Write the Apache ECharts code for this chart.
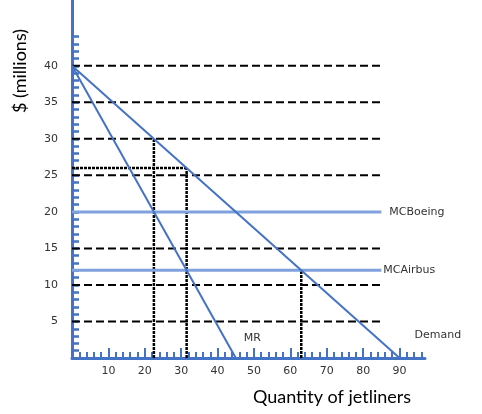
<!DOCTYPE html>
<html><head><meta charset="utf-8">
<script src="https://cdn.jsdelivr.net/npm/echarts@6/dist/echarts.min.js"></script>
<style>html,body{margin:0;padding:0;background:#fff}#c{width:482px;height:414px}</style>
</head><body><div id="c"></div>
<script>
// ---- data ----
const demandPts = [[0, 40], [90, 0]];
const mrPts = [[0, 40], [45, 0]];
const mcBoeing = 20;
const mcAirbus = 12;
const mcEndQ = 85;
const gridPrices = [5, 10, 15, 25, 30, 35, 40];
const gridEndQ = 85;
const qBoeing = 22.5, pBoeing = 30;
const qAirbus = 31.5, pAirbus = 26;
const qCompetitive = 63;
const yTickValues = [1,2,3,4,5,6,7,8,9,10,11,12,13,14,15,16,17,18,19,20,21,22,23,24,25,26,27,28,29,30,31,32,33,34,35,36,37,38,39,40,41,42,43,44];
const yLabelValues = [5, 10, 15, 20, 25, 30, 35, 40];
const xMajorTicks = [0, 10, 20, 30, 40, 50, 60, 70, 80, 90];
const xMinorTicks = [2,4,6,8,12,14,16,18,22,24,26,28,32,34,36,38,42,44,46,48,52,54,56,58,62,64,66,68,72,74,76,78,82,84,86,88,92,94,96];
const xLabelValues = [10, 20, 30, 40, 50, 60, 70, 80, 90];

const BLUE = '#4472C4';
const LIGHT = '#7FA1DC';
const TXT = '#333';

const series = [];
gridPrices.forEach(p => {
  series.push({ type: 'line', data: [[0, p], [gridEndQ, p]], symbol: 'none', silent: true,
    lineStyle: { color: '#000', width: 2, type: [8, 4] }, z: 1 });
});
const dotted = { color: '#000', width: 2.5, type: [3, 1] };
series.push({ type: 'line', data: [[qBoeing, 0], [qBoeing, pBoeing]], symbol: 'none', lineStyle: dotted, z: 2 });
series.push({ type: 'line', data: [[qAirbus, 0], [qAirbus, pAirbus]], symbol: 'none', lineStyle: dotted, z: 2 });
series.push({ type: 'line', data: [[0, pAirbus], [qAirbus, pAirbus]], symbol: 'none', lineStyle: dotted, z: 2 });
series.push({ type: 'line', data: [[qCompetitive, 0], [qCompetitive, mcAirbus]], symbol: 'none', lineStyle: dotted, z: 2 });
series.push({ type: 'line', data: [[0, mcBoeing], [mcEndQ, mcBoeing]], symbol: 'none',
  lineStyle: { color: LIGHT, width: 3 }, z: 3,
  endLabel: { show: true, formatter: 'MCBoeing', distance: 0, offset: [8, 0], color: TXT, fontSize: 11, fontFamily: 'DejaVu Sans' } });
series.push({ type: 'line', data: [[0, mcAirbus], [mcEndQ, mcAirbus]], symbol: 'none',
  lineStyle: { color: LIGHT, width: 3 }, z: 3,
  endLabel: { show: true, formatter: 'MCAirbus', distance: 0, offset: [2, 0], color: TXT, fontSize: 11, fontFamily: 'DejaVu Sans' } });
series.push({ type: 'line', data: demandPts, symbol: 'none', lineStyle: { color: BLUE, width: 2 }, z: 4,
  endLabel: { show: true, formatter: 'Demand', distance: 0, offset: [15, -23], color: TXT, fontSize: 11, fontFamily: 'DejaVu Sans' } });
series.push({ type: 'line', data: mrPts, symbol: 'none', lineStyle: { color: BLUE, width: 2 }, z: 4,
  endLabel: { show: true, formatter: 'MR', distance: 0, offset: [8, -20], color: TXT, fontSize: 11, fontFamily: 'DejaVu Sans' } });

const chart = echarts.init(document.getElementById('c'), null, { renderer: 'canvas' });
chart.setOption({
  animation: false,
  backgroundColor: '#fff',
  grid: { left: 72, right: 57, top: 0, bottom: 56, containLabel: false },
  xAxis: [
    { type: 'value', min: 0, max: 97, splitLine: { show: false },
      axisLine: { show: true, lineStyle: { color: BLUE, width: 3 } },
      axisTick: { show: true, inside: true, length: 10, customValues: xMajorTicks, lineStyle: { color: BLUE, width: 2 } },
      axisLabel: { show: true, customValues: xLabelValues, color: TXT, fontSize: 11, fontFamily: 'DejaVu Sans', margin: 8 } },
    { type: 'value', min: 0, max: 97, position: 'bottom', splitLine: { show: false },
      axisLine: { show: false },
      axisTick: { show: true, inside: true, length: 6, customValues: xMinorTicks, lineStyle: { color: BLUE, width: 2 } },
      axisLabel: { show: false } }
  ],
  yAxis: { type: 'value', min: 0, max: 49, splitLine: { show: false },
    axisLine: { show: true, lineStyle: { color: BLUE, width: 3 } },
    axisTick: { show: true, inside: true, length: 7, customValues: yTickValues, lineStyle: { color: BLUE, width: 2.5 } },
    axisLabel: { show: true, customValues: yLabelValues, color: TXT, fontSize: 11, fontFamily: 'DejaVu Sans', margin: 14 } },
  series: series,
  graphic: [
    { type: 'text', x: 11, y: 113, rotation: Math.PI / 2,
      style: { text: '$ (millions)', fontSize: 18, fontFamily: 'Lato', fill: '#000', textAlign: 'left', textVerticalAlign: 'top' } },
    { type: 'text', x: 332, y: 397,
      style: { text: 'Quantity of jetliners', fontSize: 18, fontFamily: 'Lato', fill: '#000', textAlign: 'center', textVerticalAlign: 'middle' } }
  ]
});
</script>
</body></html>
